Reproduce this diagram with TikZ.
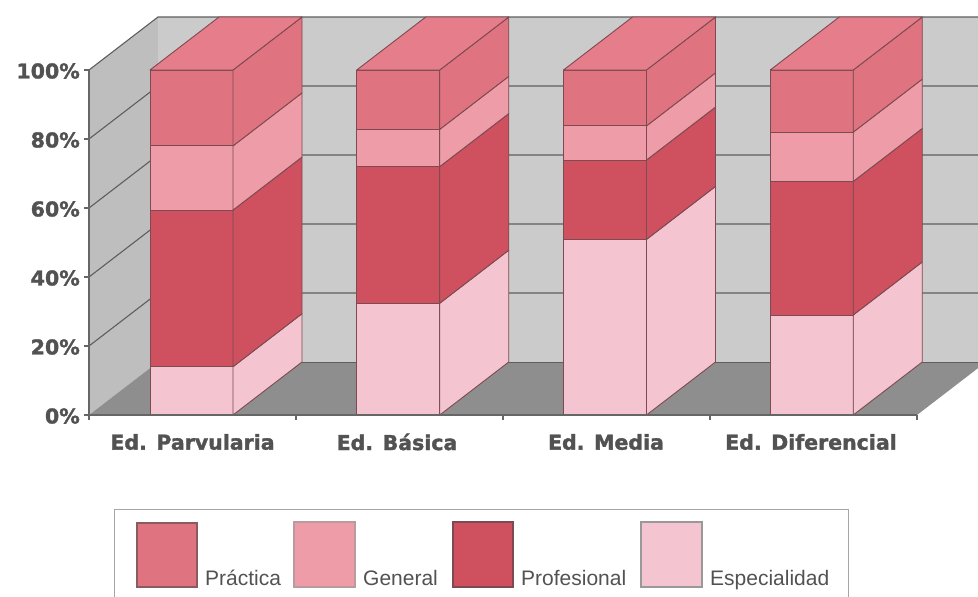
\documentclass[tikz,border=0pt]{standalone}
\usepackage{fontspec}
\setmainfont{Liberation Sans}
\newfontfamily\heavyfont{DejaVu Sans}[BoldFeatures={FakeBold=1.6}]
\definecolor{practica}{HTML}{E07380}
\definecolor{practicatop}{HTML}{E67D8A}
\definecolor{general}{HTML}{EE9CA7}
\definecolor{profesional}{HTML}{CF505E}
\definecolor{especialidad}{HTML}{F4C5D0}
\definecolor{edge}{HTML}{7C4A50}
\definecolor{backwall}{HTML}{CBCBCB}
\definecolor{sidewall}{HTML}{BEBEBE}
\definecolor{floorc}{HTML}{8E8E8E}
\definecolor{gridc}{HTML}{5E5E5E}
\definecolor{labelc}{HTML}{525252}
\definecolor{axisc}{HTML}{666666}

\newcommand\colseg[4]{%
  \pgfmathsetmacro\segya{415-3.45*#2}%
  \pgfmathsetmacro\segyb{415-3.45*#3}%
  \pgfmathsetmacro\segxa{#1+83}%
  \pgfmathsetmacro\segxb{#1+152}%
  \filldraw[barface,fill=#4] (#1,\segya) rectangle (\segxa,\segyb);
  \filldraw[barface,fill=#4] (\segxa,\segya) -- (\segxb,\segya-53) -- (\segxb,\segyb-53) -- (\segxa,\segyb) -- cycle;
}
\newcommand\coltop[2]{%
  \filldraw[barface,fill=#2] (#1,70) -- (#1+83,70) -- (#1+152,17) -- (#1+69,17) -- cycle;
}
\newcommand\drawcol[4]{%
  \colseg{#1}{0}{#2}{especialidad}%
  \colseg{#1}{#2}{#3}{profesional}%
  \colseg{#1}{#3}{#4}{general}%
  \colseg{#1}{#4}{100}{practica}%
  \coltop{#1}{practicatop}%
}

\begin{document}
\begin{tikzpicture}[x=1pt,y=-1pt,
  barface/.style={draw=edge,line width=0.9pt,line join=round},
  gridline/.style={draw=gridc,line width=1.1pt},
  axisline/.style={draw=axisc,line width=1.3pt},
  ylab/.style={font=\heavyfont\bfseries\fontsize{20.5}{24}\selectfont,text=labelc,anchor=east,inner sep=0pt},
  catlab/.style={font=\heavyfont\bfseries\fontsize{20.5}{24}\selectfont,text=labelc,anchor=center,inner sep=0pt},
  swatch/.style={line width=1.6pt},
  leglab/.style={font=\fontsize{21}{24}\selectfont,text=labelc,anchor=base west,inner sep=0pt}]
\useasboundingbox (0,0) rectangle (978,597);
\begin{scope}
\clip (0,0) rectangle (978,597);
% side wall
\fill[sidewall] (89,415) -- (89,70) -- (158,17) -- (158,362) -- cycle;
% back wall
\fill[backwall] (158,17) rectangle (990,362);
% floor
\fill[floorc] (89,415) -- (917,415) -- (986,362) -- (158,362) -- cycle;
% grid lines
\foreach \k in {1,2,3,4} {
  \draw[gridline] (89,415-69*\k) -- (158,362-69*\k) -- (990,362-69*\k);
}
\draw[gridline] (89,70) -- (158,17) -- (990,17);
\draw[draw=gridc,line width=0.8pt] (158,362) -- (990,362);
\end{scope}
% columns
\drawcol{150}{14}{59.4}{78}
\drawcol{356.75}{32.4}{72}{82.8}
\drawcol{563.5}{50.9}{73.9}{83.8}
\drawcol{770.25}{29}{67.7}{82}
% axes
\draw[axisline] (89,70) -- (89,415) -- (917,415);
\foreach \k in {0,1,2,3,4,5} { \draw[axisline] (84,415-69*\k) -- (89,415-69*\k); }
\foreach \k in {0,1,2,3,4} { \draw[axisline] (89+207*\k,415) -- (89+207*\k,420); }
% y labels
\node[ylab] (y0) at (80,416) {0\%};
\node[ylab] (y20) at (80,347) {20\%};
\node[ylab] (y40) at (80,278) {40\%};
\node[ylab] (y60) at (80,209) {60\%};
\node[ylab] (y80) at (80,140) {80\%};
\node[ylab] (y100) at (80,71) {100\%};
% category labels
\node[catlab] (c1) at (192.5,442) {Ed. Parvularia};
\node[catlab] (c2) at (397,442) {Ed. Básica};
\node[catlab] (c3) at (606,442) {Ed. Media};
\node[catlab] (c4) at (811,442) {Ed. Diferencial};
% legend
\draw[draw=gray!70,line width=1pt] (114,620) -- (114,509) -- (848,509) -- (848,620);
\filldraw[swatch,fill=practica,draw=edge!90] (137,523) rectangle (197,587);
\filldraw[swatch,fill=general,draw=edge!55!white] (294,522) rectangle (355,587);
\filldraw[swatch,fill=profesional,draw=edge] (453,522) rectangle (513,587);
\filldraw[swatch,fill=especialidad,draw=gray!80] (641,522) rectangle (702,587);
\node[leglab] (l1) at (205,585) {Práctica};
\node[leglab] (l2) at (363,585) {General};
\node[leglab] (l3) at (521,585) {Profesional};
\node[leglab] (l4) at (710,585) {Especialidad};
\end{tikzpicture}
\end{document}
